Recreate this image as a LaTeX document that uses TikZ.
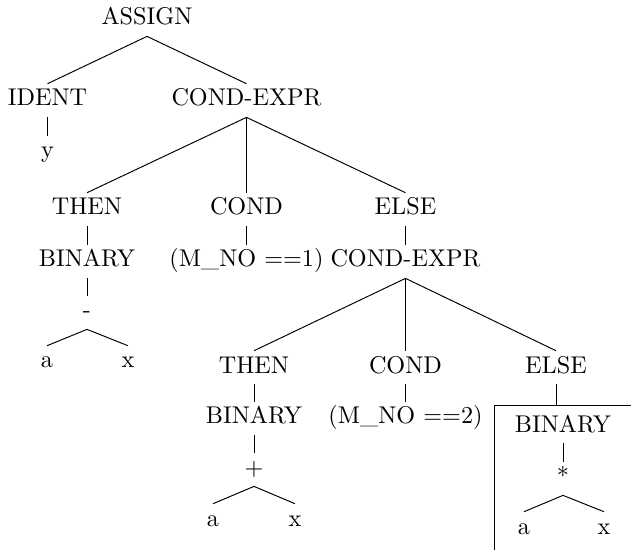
\documentclass[tikz,border=0pt]{standalone}
\usepackage{tikz}

\begin{document}
\begin{tikzpicture}[x=4.13pt, y=4.13pt,
    tnode/.style={anchor=base, inner ysep=2pt, text height=7pt, text depth=2.5pt}]
    \useasboundingbox (0,0) rectangle (63.1,-55);
    \clip (0,0) rectangle (63.1,-55);
    % upper part
    \node[tnode] (assign) at (14.7,-2.5) {ASSIGN};
    \node[tnode] (ident) at (4.75,-10.6) {IDENT};
    \node[tnode] (cexpr) at (24.65,-10.6) {COND-EXPR};
    \node[tnode] (yid) at (4.75,-15.8) {y};
    \node[tnode] (thena) at (8.7,-21.5) {THEN};
    \node[tnode] (conda) at (24.65,-21.5) {COND};
    \node[tnode] (elsea) at (40.55,-21.5) {ELSE};
    \node[tnode] (binarya) at (8.7,-26.7) {BINARY};
    \node[tnode] (testa) at (24.65,-26.7) {(M\_NO ==1)};
    \node[tnode] (cexprb) at (40.55,-26.7) {COND-EXPR};
    \node[tnode] (minus) at (8.7,-31.8) {-};
    \node[tnode] (aa) at (4.7,-36.8) {a};
    \node[tnode] (xa) at (12.8,-36.8) {x};
    % lower part
    \node[tnode] (thenb) at (25.4,-37.3) {THEN};
    \node[tnode] (condb) at (40.55,-37.3) {COND};
    \node[tnode] (elseb) at (55.6,-37.3) {ELSE};
    \node[tnode] (binaryb) at (25.4,-42.4) {BINARY};
    \node[tnode] (testb) at (40.55,-42.4) {(M\_NO ==2)};
    \node[tnode] (plus) at (25.4,-47.5) {+};
    \node[tnode] (ab) at (21.3,-52.6) {a};
    \node[tnode] (xb) at (29.5,-52.6) {x};
    % boxed subtree
    \node[draw, anchor=north west, minimum width=57.8pt, minimum height=66pt] (frame) at (49.4,-40.5) {};
    \node[tnode] (binaryc) at (56.3,-43.2) {BINARY};
    \node[tnode] (star) at (56.3,-48.4) {*};
    \node[tnode] (ac) at (52.4,-53.4) {a};
    \node[tnode] (xc) at (60.4,-53.4) {x};
    \foreach \p/\c in {assign/ident, assign/cexpr, ident/yid, cexpr/thena, cexpr/conda,
        cexpr/elsea, thena/binarya, conda/testa, elsea/cexprb, binarya/minus, minus/aa,
        minus/xa, cexprb/thenb, cexprb/condb, cexprb/elseb, thenb/binaryb, condb/testb,
        binaryb/plus, plus/ab, plus/xb, binaryc/star, star/ac, star/xc}
        \draw (\p.south) -- (\c.north);
    \draw (elseb.south) -- (elseb.south |- frame.north);
\end{tikzpicture}
\end{document}
